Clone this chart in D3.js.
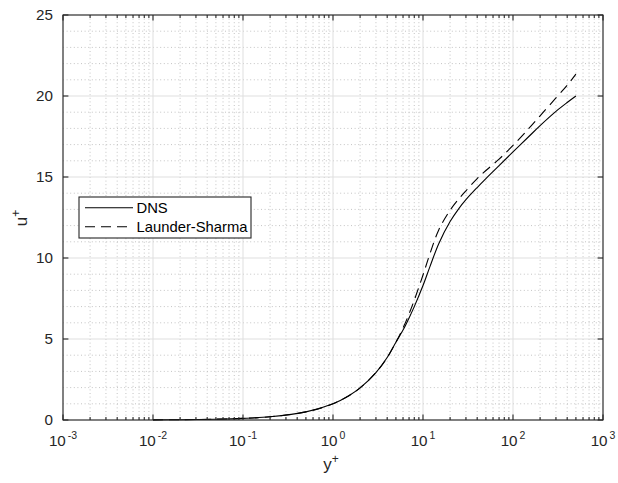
<!DOCTYPE html>
<html>
<head>
<meta charset="utf-8">
<script src="https://cdn.jsdelivr.net/npm/d3@7"></script>
<style>
  html, body { margin: 0; padding: 0; background: #fff; }
  svg { display: block; font-family: "Liberation Sans", Arial, Helvetica, sans-serif; }
</style>
</head>
<body>
<svg id="chart" width="618" height="483"></svg>
<script>
// ---- data ----
const yPlus = [0.01, 0.02, 0.05, 0.1, 0.2, 0.5, 1, 1.5, 2, 3, 4, 5, 6, 7, 8, 10, 12, 15, 20, 25, 30, 40, 50, 70, 100, 150, 200, 300, 400, 500];
const uDNS  = [0.01, 0.02, 0.05, 0.1, 0.2, 0.5, 1.0, 1.5, 1.98, 2.93, 3.86, 4.8, 5.55, 6.3, 7.0, 8.3, 9.5, 10.9, 12.25, 13.05, 13.6, 14.35, 14.9, 15.7, 16.55, 17.5, 18.17, 19.05, 19.6, 20.0];
const uLS   = [0.01, 0.02, 0.05, 0.1, 0.2, 0.5, 1.0, 1.5, 1.98, 2.93, 3.85, 4.8, 5.68, 6.55, 7.4, 8.95, 10.3, 11.75, 12.95, 13.65, 14.15, 14.9, 15.4, 16.1, 16.95, 18.0, 18.78, 19.88, 20.66, 21.35];
const seriesNames = ["DNS", "Launder-Sharma"];
const xTickExps = [-3, -2, -1, 0, 1, 2, 3];
const yTicks = [0, 5, 10, 15, 20, 25];
const xLabel = "y";
const yLabel = "u";

// ---- layout ----
const L = 63, R = 603, T = 15, B = 420;
const axisColor = "#262626";
const svg = d3.select("#chart");

const x = d3.scaleLog().domain([1e-3, 1e3]).range([L, R]);
const y = d3.scaleLinear().domain([0, 25]).range([B, T]);

const xMinor = [];
for (let e = -3; e < 3; e++) for (let m = 2; m <= 9; m++) xMinor.push(m * Math.pow(10, e));
const xMajor = xTickExps.map(e => Math.pow(10, e));
const yMinor = d3.range(0, 26).filter(v => v % 5 !== 0);

const grid = svg.append("g");
grid.selectAll(".xm").data(xMinor).join("line")
  .attr("x1", d => x(d)).attr("x2", d => x(d)).attr("y1", T).attr("y2", B)
  .attr("stroke", "#c4c4c4").attr("stroke-width", 1).attr("stroke-dasharray", "1,2.6");
grid.selectAll(".ym").data(yMinor).join("line")
  .attr("x1", L).attr("x2", R).attr("y1", d => y(d)).attr("y2", d => y(d))
  .attr("stroke", "#c4c4c4").attr("stroke-width", 1).attr("stroke-dasharray", "1,2.6");
grid.selectAll(".xM").data(xMajor).join("line")
  .attr("x1", d => x(d)).attr("x2", d => x(d)).attr("y1", T).attr("y2", B)
  .attr("stroke", "#dfdfdf").attr("stroke-width", 1);
grid.selectAll(".yM").data(yTicks).join("line")
  .attr("x1", L).attr("x2", R).attr("y1", d => y(d)).attr("y2", d => y(d))
  .attr("stroke", "#dfdfdf").attr("stroke-width", 1);

// ---- data lines ----
const pts = (arr) => yPlus.map((v, i) => [v, arr[i]]);
const line = d3.line().x(d => x(d[0])).y(d => y(d[1])).curve(d3.curveCatmullRom.alpha(0.5));
svg.append("path").attr("d", line(pts(uDNS)))
  .attr("fill", "none").attr("stroke", "#000").attr("stroke-width", 1.1);
svg.append("path").attr("d", line(pts(uLS)))
  .attr("fill", "none").attr("stroke", "#000").attr("stroke-width", 1.1)
  .attr("stroke-dasharray", "10,6");

// ---- axes (box + ticks) ----
const ax = svg.append("g").attr("stroke", axisColor).attr("stroke-width", 1.1);
ax.append("rect").attr("x", L).attr("y", T).attr("width", R - L).attr("height", B - T).attr("fill", "none");
const majLen = 5.4, minLen = 3;
xMinor.forEach(v => {
  ax.append("line").attr("x1", x(v)).attr("x2", x(v)).attr("y1", B).attr("y2", B - minLen);
  ax.append("line").attr("x1", x(v)).attr("x2", x(v)).attr("y1", T).attr("y2", T + minLen);
});
xMajor.forEach(v => {
  ax.append("line").attr("x1", x(v)).attr("x2", x(v)).attr("y1", B).attr("y2", B - majLen);
  ax.append("line").attr("x1", x(v)).attr("x2", x(v)).attr("y1", T).attr("y2", T + majLen);
});
yTicks.forEach(v => {
  ax.append("line").attr("x1", L).attr("x2", L + majLen).attr("y1", y(v)).attr("y2", y(v));
  ax.append("line").attr("x1", R).attr("x2", R - majLen).attr("y1", y(v)).attr("y2", y(v));
});

// ---- tick labels ----
const fs = 15.2;
svg.append("g").selectAll("text").data(yTicks).join("text")
  .attr("x", L - 10).attr("y", d => y(d)).attr("dy", "0.36em")
  .attr("text-anchor", "end").attr("font-size", fs).attr("fill", axisColor)
  .text(d => d);

const xl = svg.append("g").selectAll("text").data(xTickExps).join("text")
  .attr("x", d => x(Math.pow(10, d))).attr("y", 445.5)
  .attr("text-anchor", "middle").attr("font-size", fs).attr("fill", axisColor);
xl.append("tspan").text("10");
xl.append("tspan").attr("dx", 2).attr("dy", -7).attr("font-size", 10.5).text(d => d);

// ---- axis labels ----
const xt = svg.append("text").attr("x", 331).attr("y", 470)
  .attr("text-anchor", "middle").attr("font-size", 17).attr("fill", axisColor);
xt.append("tspan").text(xLabel);
xt.append("tspan").attr("dy", -7).attr("font-size", 12).text("+");

const yt = svg.append("text").attr("transform", "translate(27,218) rotate(-90)")
  .attr("text-anchor", "middle").attr("font-size", 17).attr("fill", axisColor);
yt.append("tspan").text(yLabel);
yt.append("tspan").attr("dy", -7).attr("font-size", 12).text("+");

// ---- legend ----
const lg = svg.append("g");
lg.append("rect").attr("x", 79).attr("y", 197).attr("width", 172).attr("height", 41)
  .attr("fill", "#fff").attr("stroke", axisColor).attr("stroke-width", 1.1);
const rows = [207.7, 226.7];
const dashes = [null, "10,6"];
seriesNames.forEach((name, i) => {
  lg.append("line").attr("x1", 85).attr("x2", 133).attr("y1", rows[i]).attr("y2", rows[i])
    .attr("stroke", "#000").attr("stroke-width", 1.1).attr("stroke-dasharray", dashes[i]);
  lg.append("text").attr("x", 136.5).attr("y", rows[i]).attr("dy", "0.36em")
    .attr("font-size", 14.8).attr("fill", "#000").text(name);
});
</script>
</body>
</html>
